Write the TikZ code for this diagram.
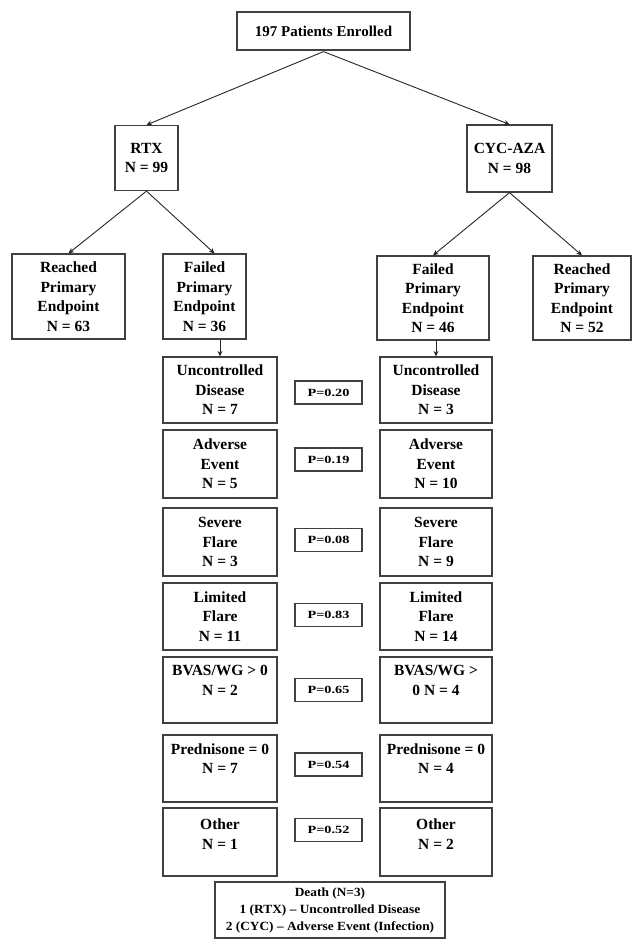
\documentclass[tikz,border=0pt]{standalone}
\usepackage{fontspec}
\setmainfont{Liberation Serif}
\newfontfamily\pfont[FakeStretch=1.3]{Liberation Serif}
\newfontfamily\dfont[FakeStretch=1.07,Ligatures=TeX]{Liberation Serif}
\usetikzlibrary{arrows.meta,calc}
\begin{document}
\begin{tikzpicture}[x=1pt,y=-1pt,
 box/.style={draw=black!75,line width=1.2pt,inner sep=0pt,align=center,
   font=\fontsize{15.5}{19.5}\selectfont\bfseries},
 pbox/.style={draw=black!75,line width=1.2pt,inner sep=0pt,align=center,
   minimum width=67pt,minimum height=23pt,font=\fontsize{11}{13}\pfont\bfseries},
 dbox/.style={draw=black!75,line width=1.2pt,inner sep=0pt,align=center,
   font=\fontsize{12.5}{17}\dfont\bfseries},
 arr/.style={-{Stealth[length=5.5pt,width=5pt]},line width=0.9pt,draw=black!85}]
\useasboundingbox[fill=white] (0,0) rectangle (639,940);

% top level
\node[box,minimum width=173pt,minimum height=38pt,font=\fontsize{15}{18}\selectfont\bfseries] (top) at (323.5,31) {197 Patients Enrolled};
\node[box,minimum width=63pt,minimum height=65pt] (rtx) at (146.5,158) {RTX\\N = 99};
\node[box,minimum width=85pt,minimum height=67pt] (cyc) at (509.5,158.5) {CYC-AZA\\N = 98};

% second level
\node[box,minimum width=113pt,minimum height=85pt] (reachL) at (68.5,296.5) {Reached\\Primary\\Endpoint\\N = 63};
\node[box,minimum width=83pt,minimum height=85pt] (failL) at (204.5,296.5) {Failed\\Primary\\Endpoint\\N = 36};
\node[box,minimum width=112pt,minimum height=84pt] (failR) at (433,298) {Failed\\Primary\\Endpoint\\N = 46};
\node[box,minimum width=98pt,minimum height=84pt] (reachR) at (582,298) {Reached\\Primary\\Endpoint\\N = 52};

% rows
\node[box,minimum width=114pt,minimum height=66pt] (uncL) at (220,390) {Uncontrolled\\Disease\\N = 7};
\node[box,minimum width=112pt,minimum height=66pt] (uncR) at (436,390) {Uncontrolled\\Disease\\N = 3};
\node[pbox] (p1) at (328.5,392.5) {P=0.20};

\node[box,minimum width=114pt,minimum height=68pt] (advL) at (220,464) {Adverse\\Event\\N = 5};
\node[box,minimum width=112pt,minimum height=68pt] (advR) at (436,464) {Adverse\\Event\\N = 10};
\node[pbox] (p2) at (328.5,459.5) {P=0.19};

\node[box,minimum width=114pt,minimum height=68pt] (sevL) at (220,542) {Severe\\Flare\\N = 3};
\node[box,minimum width=112pt,minimum height=68pt] (sevR) at (436,542) {Severe\\Flare\\N = 9};
\node[pbox] (p3) at (328.5,540) {P=0.08};

\node[box,minimum width=114pt,minimum height=67pt] (limL) at (220,616.5) {Limited\\Flare\\N = 11};
\node[box,minimum width=112pt,minimum height=67pt] (limR) at (436,616.5) {Limited\\Flare\\N = 14};
\node[pbox] (p4) at (328.5,615) {P=0.83};

\node[box,minimum width=114pt,minimum height=66pt] (bvL) at (220,690) {BVAS/WG > 0\\N = 2\\ };
\node[box,minimum width=112pt,minimum height=66pt] (bvR) at (436,690) {BVAS/WG >\\0 N = 4\\ };
\node[pbox] (p5) at (328.5,690) {P=0.65};

\node[box,minimum width=114pt,minimum height=67pt] (prL) at (220,768.5) {Prednisone = 0\\N = 7\\ };
\node[box,minimum width=112pt,minimum height=67pt] (prR) at (436,768.5) {Prednisone = 0\\N = 4\\ };
\node[pbox] (p6) at (328.5,764.5) {P=0.54};

\node[box,minimum width=114pt,minimum height=68pt] (otL) at (220,842) {Other\\N = 1\\[-4pt]};
\node[box,minimum width=112pt,minimum height=68pt] (otR) at (436,842) {Other\\N = 2\\[-4pt]};
\node[pbox] (p7) at (328.5,830) {P=0.52};

\node[dbox,minimum width=230pt,minimum height=56pt] (death) at (330,910) {Death (N=3)\\1 (RTX) – Uncontrolled Disease\\2 (CYC) – Adverse Event (Infection)};

% connectors
\coordinate (topb) at ($(top.south)+(0,1)$);
\draw[arr] (topb) -- (rtx.north);
\draw[arr] (topb) -- (cyc.north);
\draw[arr] (rtx.south) -- (reachL.north);
\draw[arr] (rtx.south) -- ($(failL.north)+(10,0)$);
\draw[arr] (cyc.south) -- (failR.north);
\draw[arr] (cyc.south) -- (reachR.north);
\draw[arr] (uncL.north |- failL.south) -- (uncL.north);
\draw[arr] (uncR.north |- failR.south) -- (uncR.north);
\end{tikzpicture}
\end{document}
